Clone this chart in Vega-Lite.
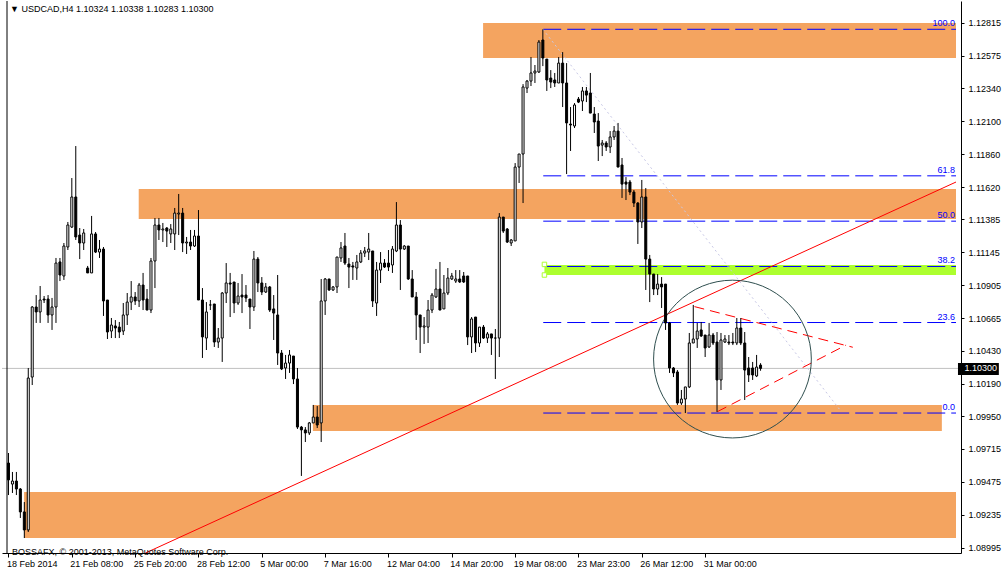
{
"$schema": "https://vega.github.io/schema/vega-lite/v6.json",
"width": 959, "height": 552,
"autosize": {"type": "none"},
"padding": {"left": 2, "top": 1, "right": 43, "bottom": 18},
"background": "white",
"config": {"view": {"stroke": null}, "font": "Liberation Sans", "axis": {"labelOverlap": false, "labelBound": false}},
"datasets": {
"candles": [
{"i":0,"o":1.09611,"h":1.09684,"l":1.09378,"c":1.09488},
{"i":1,"o":1.09458,"h":1.09546,"l":1.09393,"c":1.09480},
{"i":2,"o":1.09480,"h":1.09546,"l":1.09378,"c":1.09422},
{"i":3,"o":1.09422,"h":1.09429,"l":1.09211,"c":1.09255},
{"i":4,"o":1.09255,"h":1.09327,"l":1.09065,"c":1.09124},
{"i":5,"o":1.09124,"h":1.10303,"l":1.09109,"c":1.10230},
{"i":6,"o":1.10237,"h":1.10754,"l":1.10179,"c":1.10747},
{"i":7,"o":1.10747,"h":1.10834,"l":1.10631,"c":1.10711},
{"i":8,"o":1.10711,"h":1.10900,"l":1.10631,"c":1.10798},
{"i":9,"o":1.10805,"h":1.10827,"l":1.10776,"c":1.10798},
{"i":10,"o":1.10805,"h":1.10834,"l":1.10631,"c":1.10689},
{"i":11,"o":1.10689,"h":1.10813,"l":1.10580,"c":1.10747},
{"i":12,"o":1.10747,"h":1.11104,"l":1.10631,"c":1.11067},
{"i":13,"o":1.11075,"h":1.11104,"l":1.10936,"c":1.10980},
{"i":14,"o":1.10973,"h":1.11213,"l":1.10944,"c":1.11191},
{"i":15,"o":1.11184,"h":1.11366,"l":1.11162,"c":1.11344},
{"i":16,"o":1.11329,"h":1.11686,"l":1.11322,"c":1.11548},
{"i":17,"o":1.11548,"h":1.11919,"l":1.11235,"c":1.11257},
{"i":18,"o":1.11271,"h":1.11322,"l":1.11096,"c":1.11213},
{"i":19,"o":1.11213,"h":1.11315,"l":1.11162,"c":1.11286},
{"i":20,"o":1.11031,"h":1.11046,"l":1.10995,"c":1.10995},
{"i":21,"o":1.10995,"h":1.11410,"l":1.10995,"c":1.11279},
{"i":22,"o":1.11279,"h":1.11293,"l":1.11140,"c":1.11147},
{"i":23,"o":1.11147,"h":1.11235,"l":1.11104,"c":1.11169},
{"i":24,"o":1.11169,"h":1.11184,"l":1.10682,"c":1.10791},
{"i":25,"o":1.10798,"h":1.10798,"l":1.10514,"c":1.10565},
{"i":26,"o":1.10572,"h":1.10667,"l":1.10521,"c":1.10616},
{"i":27,"o":1.10609,"h":1.10652,"l":1.10521,"c":1.10594},
{"i":28,"o":1.10601,"h":1.10638,"l":1.10521,"c":1.10565},
{"i":29,"o":1.10572,"h":1.10776,"l":1.10543,"c":1.10689},
{"i":30,"o":1.10689,"h":1.10849,"l":1.10616,"c":1.10783},
{"i":31,"o":1.10783,"h":1.10936,"l":1.10725,"c":1.10820},
{"i":32,"o":1.10820,"h":1.10856,"l":1.10762,"c":1.10791},
{"i":33,"o":1.10791,"h":1.10922,"l":1.10747,"c":1.10907},
{"i":34,"o":1.10907,"h":1.10995,"l":1.10725,"c":1.10798},
{"i":35,"o":1.10805,"h":1.10878,"l":1.10725,"c":1.10725},
{"i":36,"o":1.10725,"h":1.11104,"l":1.10703,"c":1.11082},
{"i":37,"o":1.11082,"h":1.11395,"l":1.10885,"c":1.11344},
{"i":38,"o":1.11344,"h":1.11395,"l":1.11235,"c":1.11308},
{"i":39,"o":1.11308,"h":1.11359,"l":1.11220,"c":1.11315},
{"i":40,"o":1.11322,"h":1.11329,"l":1.11184,"c":1.11300},
{"i":41,"o":1.11279,"h":1.11351,"l":1.11213,"c":1.11315},
{"i":42,"o":1.11279,"h":1.11468,"l":1.11162,"c":1.11431},
{"i":43,"o":1.11424,"h":1.11570,"l":1.11271,"c":1.11431},
{"i":44,"o":1.11431,"h":1.11468,"l":1.11147,"c":1.11213},
{"i":45,"o":1.11213,"h":1.11257,"l":1.11133,"c":1.11220},
{"i":46,"o":1.11220,"h":1.11308,"l":1.11162,"c":1.11191},
{"i":47,"o":1.11191,"h":1.11308,"l":1.11184,"c":1.11264},
{"i":48,"o":1.11264,"h":1.11453,"l":1.10798,"c":1.10798},
{"i":49,"o":1.10798,"h":1.10885,"l":1.10376,"c":1.10529},
{"i":50,"o":1.10521,"h":1.10783,"l":1.10434,"c":1.10711},
{"i":51,"o":1.10762,"h":1.10798,"l":1.10725,"c":1.10762},
{"i":52,"o":1.10769,"h":1.10769,"l":1.10456,"c":1.10492},
{"i":53,"o":1.10492,"h":1.10594,"l":1.10449,"c":1.10521},
{"i":54,"o":1.10521,"h":1.10856,"l":1.10347,"c":1.10849},
{"i":55,"o":1.10849,"h":1.11067,"l":1.10776,"c":1.10922},
{"i":56,"o":1.10922,"h":1.10995,"l":1.10674,"c":1.10914},
{"i":57,"o":1.10929,"h":1.10929,"l":1.10703,"c":1.10776},
{"i":58,"o":1.10776,"h":1.10922,"l":1.10762,"c":1.10827},
{"i":59,"o":1.10834,"h":1.10987,"l":1.10703,"c":1.10820},
{"i":60,"o":1.10834,"h":1.10907,"l":1.10783,"c":1.10813},
{"i":61,"o":1.10805,"h":1.10805,"l":1.10587,"c":1.10747},
{"i":62,"o":1.10747,"h":1.11155,"l":1.10718,"c":1.11096},
{"i":63,"o":1.11096,"h":1.11111,"l":1.10856,"c":1.10922},
{"i":64,"o":1.10922,"h":1.10965,"l":1.10834,"c":1.10856},
{"i":65,"o":1.10856,"h":1.10922,"l":1.10849,"c":1.10893},
{"i":66,"o":1.10893,"h":1.10900,"l":1.10711,"c":1.10725},
{"i":67,"o":1.10733,"h":1.10834,"l":1.10507,"c":1.10703},
{"i":68,"o":1.10689,"h":1.10980,"l":1.10325,"c":1.10412},
{"i":69,"o":1.10412,"h":1.10434,"l":1.10288,"c":1.10296},
{"i":70,"o":1.10303,"h":1.10398,"l":1.10223,"c":1.10339},
{"i":71,"o":1.10339,"h":1.10434,"l":1.10267,"c":1.10398},
{"i":72,"o":1.10390,"h":1.10390,"l":1.10186,"c":1.10223},
{"i":73,"o":1.10223,"h":1.10303,"l":1.09859,"c":1.09873},
{"i":74,"o":1.09873,"h":1.09881,"l":1.09517,"c":1.09852},
{"i":75,"o":1.09852,"h":1.09873,"l":1.09764,"c":1.09830},
{"i":76,"o":1.09830,"h":1.09910,"l":1.09815,"c":1.09903},
{"i":77,"o":1.09903,"h":1.10034,"l":1.09903,"c":1.09946},
{"i":78,"o":1.09946,"h":1.10026,"l":1.09866,"c":1.09888},
{"i":79,"o":1.09903,"h":1.10951,"l":1.09764,"c":1.10791},
{"i":80,"o":1.10791,"h":1.10958,"l":1.10689,"c":1.10951},
{"i":81,"o":1.10951,"h":1.10951,"l":1.10864,"c":1.10871},
{"i":82,"o":1.10871,"h":1.10900,"l":1.10864,"c":1.10893},
{"i":83,"o":1.10893,"h":1.11111,"l":1.10849,"c":1.11111},
{"i":84,"o":1.11104,"h":1.11220,"l":1.11075,"c":1.11177},
{"i":85,"o":1.11191,"h":1.11286,"l":1.11053,"c":1.11067},
{"i":86,"o":1.11060,"h":1.11104,"l":1.10885,"c":1.11038},
{"i":87,"o":1.11046,"h":1.11075,"l":1.10944,"c":1.11038},
{"i":88,"o":1.11031,"h":1.11126,"l":1.10944,"c":1.11075},
{"i":89,"o":1.11075,"h":1.11162,"l":1.11067,"c":1.11140},
{"i":90,"o":1.11140,"h":1.11184,"l":1.11111,"c":1.11155},
{"i":91,"o":1.11147,"h":1.11286,"l":1.11089,"c":1.11169},
{"i":92,"o":1.11155,"h":1.11155,"l":1.10747,"c":1.10791},
{"i":93,"o":1.10776,"h":1.11075,"l":1.10682,"c":1.11016},
{"i":94,"o":1.11016,"h":1.11147,"l":1.10922,"c":1.11067},
{"i":95,"o":1.11067,"h":1.11096,"l":1.11031,"c":1.11038},
{"i":96,"o":1.11067,"h":1.11162,"l":1.11009,"c":1.11038},
{"i":97,"o":1.11053,"h":1.11191,"l":1.10995,"c":1.11169},
{"i":98,"o":1.11155,"h":1.11511,"l":1.11147,"c":1.11344},
{"i":99,"o":1.11344,"h":1.11380,"l":1.10871,"c":1.11169},
{"i":100,"o":1.11169,"h":1.11198,"l":1.11162,"c":1.11191},
{"i":101,"o":1.11191,"h":1.11191,"l":1.10944,"c":1.10951},
{"i":102,"o":1.10951,"h":1.11016,"l":1.10820,"c":1.10820},
{"i":103,"o":1.10820,"h":1.10856,"l":1.10507,"c":1.10689},
{"i":104,"o":1.10689,"h":1.10689,"l":1.10412,"c":1.10601},
{"i":105,"o":1.10601,"h":1.10674,"l":1.10478,"c":1.10609},
{"i":106,"o":1.10601,"h":1.10798,"l":1.10485,"c":1.10725},
{"i":107,"o":1.10725,"h":1.10849,"l":1.10703,"c":1.10834},
{"i":108,"o":1.10820,"h":1.11024,"l":1.10813,"c":1.10878},
{"i":109,"o":1.10878,"h":1.11075,"l":1.10725,"c":1.10725},
{"i":110,"o":1.10733,"h":1.10980,"l":1.10733,"c":1.10849},
{"i":111,"o":1.10849,"h":1.11031,"l":1.10834,"c":1.10958},
{"i":112,"o":1.10951,"h":1.10995,"l":1.10944,"c":1.10973},
{"i":113,"o":1.10936,"h":1.11016,"l":1.10922,"c":1.10951},
{"i":114,"o":1.10951,"h":1.11016,"l":1.10922,"c":1.10929},
{"i":115,"o":1.10973,"h":1.11002,"l":1.10922,"c":1.10929},
{"i":116,"o":1.10973,"h":1.10973,"l":1.10470,"c":1.10529},
{"i":117,"o":1.10529,"h":1.10674,"l":1.10412,"c":1.10660},
{"i":118,"o":1.10674,"h":1.10674,"l":1.10419,"c":1.10485},
{"i":119,"o":1.10485,"h":1.10601,"l":1.10456,"c":1.10601},
{"i":120,"o":1.10601,"h":1.10616,"l":1.10514,"c":1.10521},
{"i":121,"o":1.10521,"h":1.10565,"l":1.10485,"c":1.10551},
{"i":122,"o":1.10551,"h":1.10551,"l":1.10398,"c":1.10521},
{"i":123,"o":1.10521,"h":1.10587,"l":1.10223,"c":1.10521},
{"i":124,"o":1.10521,"h":1.11431,"l":1.10383,"c":1.11402},
{"i":125,"o":1.11402,"h":1.11402,"l":1.11286,"c":1.11300},
{"i":126,"o":1.11315,"h":1.11322,"l":1.11213,"c":1.11220},
{"i":127,"o":1.11213,"h":1.11242,"l":1.11191,"c":1.11235},
{"i":128,"o":1.11228,"h":1.11795,"l":1.11228,"c":1.11766},
{"i":129,"o":1.11766,"h":1.11861,"l":1.11650,"c":1.11861},
{"i":130,"o":1.11861,"h":1.12370,"l":1.11504,"c":1.12349},
{"i":131,"o":1.12341,"h":1.12400,"l":1.12305,"c":1.12392},
{"i":132,"o":1.12392,"h":1.12567,"l":1.12356,"c":1.12451},
{"i":133,"o":1.12451,"h":1.12509,"l":1.12378,"c":1.12465},
{"i":134,"o":1.12458,"h":1.12691,"l":1.12451,"c":1.12676},
{"i":135,"o":1.12691,"h":1.12769,"l":1.12501,"c":1.12560},
{"i":136,"o":1.12552,"h":1.12552,"l":1.12320,"c":1.12400},
{"i":137,"o":1.12414,"h":1.12472,"l":1.12341,"c":1.12385},
{"i":138,"o":1.12400,"h":1.12451,"l":1.12349,"c":1.12378},
{"i":139,"o":1.12378,"h":1.12567,"l":1.12378,"c":1.12523},
{"i":140,"o":1.12523,"h":1.12603,"l":1.12203,"c":1.12378},
{"i":141,"o":1.12378,"h":1.12523,"l":1.11715,"c":1.12087},
{"i":142,"o":1.12079,"h":1.12203,"l":1.11883,"c":1.12072},
{"i":143,"o":1.12065,"h":1.12232,"l":1.12050,"c":1.12218},
{"i":144,"o":1.12261,"h":1.12276,"l":1.12232,"c":1.12239},
{"i":145,"o":1.12247,"h":1.12349,"l":1.12174,"c":1.12320},
{"i":146,"o":1.12320,"h":1.12349,"l":1.12239,"c":1.12290},
{"i":147,"o":1.12305,"h":1.12451,"l":1.12159,"c":1.12159},
{"i":148,"o":1.12152,"h":1.12203,"l":1.12014,"c":1.12094},
{"i":149,"o":1.12101,"h":1.12159,"l":1.11810,"c":1.11919},
{"i":150,"o":1.11926,"h":1.11963,"l":1.11846,"c":1.11941},
{"i":151,"o":1.11941,"h":1.11955,"l":1.11883,"c":1.11912},
{"i":152,"o":1.11912,"h":1.12028,"l":1.11868,"c":1.11985},
{"i":153,"o":1.11985,"h":1.12065,"l":1.11963,"c":1.12028},
{"i":154,"o":1.12028,"h":1.12087,"l":1.11766,"c":1.11766},
{"i":155,"o":1.11781,"h":1.11832,"l":1.11541,"c":1.11642},
{"i":156,"o":1.11657,"h":1.11693,"l":1.11526,"c":1.11642},
{"i":157,"o":1.11657,"h":1.11672,"l":1.11562,"c":1.11584},
{"i":158,"o":1.11584,"h":1.11599,"l":1.11475,"c":1.11504},
{"i":159,"o":1.11504,"h":1.11511,"l":1.11206,"c":1.11366},
{"i":160,"o":1.11366,"h":1.11672,"l":1.11322,"c":1.11548},
{"i":161,"o":1.11548,"h":1.11613,"l":1.10871,"c":1.11096},
{"i":162,"o":1.11096,"h":1.11126,"l":1.10783,"c":1.10987},
{"i":163,"o":1.10987,"h":1.10987,"l":1.10834,"c":1.10878},
{"i":164,"o":1.10878,"h":1.10987,"l":1.10834,"c":1.10914},
{"i":165,"o":1.10914,"h":1.10965,"l":1.10740,"c":1.10893},
{"i":166,"o":1.10914,"h":1.10914,"l":1.10580,"c":1.10631},
{"i":167,"o":1.10631,"h":1.10638,"l":1.10267,"c":1.10303},
{"i":168,"o":1.10303,"h":1.10310,"l":1.10237,"c":1.10267},
{"i":169,"o":1.10274,"h":1.10288,"l":1.10034,"c":1.10048},
{"i":170,"o":1.10048,"h":1.10143,"l":1.10034,"c":1.10077},
{"i":171,"o":1.10077,"h":1.10165,"l":1.09975,"c":1.10165},
{"i":172,"o":1.10165,"h":1.10558,"l":1.10157,"c":1.10485},
{"i":173,"o":1.10485,"h":1.10762,"l":1.10485,"c":1.10514},
{"i":174,"o":1.10514,"h":1.10631,"l":1.10449,"c":1.10572},
{"i":175,"o":1.10580,"h":1.10638,"l":1.10529,"c":1.10536},
{"i":176,"o":1.10543,"h":1.10543,"l":1.10383,"c":1.10449},
{"i":177,"o":1.10456,"h":1.10631,"l":1.10449,"c":1.10543},
{"i":178,"o":1.10543,"h":1.10558,"l":1.10470,"c":1.10485},
{"i":179,"o":1.10492,"h":1.10565,"l":1.09983,"c":1.10216},
{"i":180,"o":1.10216,"h":1.10558,"l":1.10143,"c":1.10507},
{"i":181,"o":1.10492,"h":1.10543,"l":1.10485,"c":1.10514},
{"i":182,"o":1.10492,"h":1.10543,"l":1.10470,"c":1.10485},
{"i":183,"o":1.10492,"h":1.10558,"l":1.10470,"c":1.10485},
{"i":184,"o":1.10485,"h":1.10667,"l":1.10470,"c":1.10594},
{"i":185,"o":1.10594,"h":1.10667,"l":1.10470,"c":1.10485},
{"i":186,"o":1.10485,"h":1.10565,"l":1.10070,"c":1.10288},
{"i":187,"o":1.10303,"h":1.10383,"l":1.10201,"c":1.10252},
{"i":188,"o":1.10303,"h":1.10347,"l":1.10216,"c":1.10252},
{"i":189,"o":1.10245,"h":1.10398,"l":1.10237,"c":1.10310},
{"i":190,"o":1.10324,"h":1.10338,"l":1.10283,"c":1.10300}
],
"zones": [
{"kind":"sr","i1":119.9,"i2":239.375,"top":1.12815,"bot":1.12560},
{"kind":"sr","i1":32.9,"i2":239.375,"top":1.11606,"bot":1.11388},
{"kind":"fib","i1":135.4,"i2":239.375,"top":1.11053,"bot":1.10980},
{"kind":"sr","i1":76.9,"i2":235.8,"top":1.10034,"bot":1.09844},
{"kind":"sr","i1":3.95,"i2":239.375,"top":1.09400,"bot":1.09065}
],
"fib": [
{"lvl":"100.0","p":1.12769},
{"lvl":"61.8","p":1.11702},
{"lvl":"50.0","p":1.11372},
{"lvl":"38.2","p":1.11042},
{"lvl":"23.6","p":1.10634},
{"lvl":"0.0","p":1.09975}
],
"trend": [{"i":34.6,"p":1.08956},{"i":239.375,"p":1.11657}],
"diag": [{"i":135,"p":1.12769},{"i":209.9,"p":1.10004}],
"tri": [
{"side":"upper","i":173.3,"p":1.10750},{"side":"upper","i":213.3,"p":1.10454},
{"side":"lower","i":179.1,"p":1.09985},{"side":"lower","i":211.6,"p":1.10470}
],
"handles": [{"i":135.4,"p":1.11057},{"i":135.4,"p":1.10980}],
"circle": [{"i":182.9,"p":1.10368}],
"last": [{"p":1.10300,"hi":1.10339,"lo":1.10252,"txt":"1.10300"}],
"notes": [{"txt":"▼  USDCAD,H4  1.10324 1.10338 1.10283 1.10300"}],
"copy": [{"txt":"BOSSAFX, © 2001-2013, MetaQuotes Software Corp."}]
},
"layer": [
{"data":{"name":"zones"},
 "mark":{"type":"rect"},
 "encoding":{
  "x":{"field":"i1","type":"quantitative","scale":{"domain":[-0.375,239.375],"nice":false,"zero":false},
   "axis":{"title":null,"grid":false,"values":[0,16,32,48,64,80,96,112,128,144,160,176],"tickCount":40,
    "labelExpr":"['18 Feb 2014','21 Feb 08:00','25 Feb 20:00','28 Feb 12:00','5 Mar 00:00','7 Mar 16:00','12 Mar 04:00','14 Mar 20:00','19 Mar 08:00','23 Mar 23:00','26 Mar 12:00','31 Mar 00:00'][round(datum.value/16)]",
    "labelAlign":"left","labelBaseline":"top","labelPadding":2,"labelOffset":-2,"tickSize":4,"tickColor":"black","domainColor":"black",
    "labelFont":"Liberation Sans","labelFontSize":9,"labelColor":"black","labelFlush":false,"labelOverlap":false,"labelBound":false}},
  "x2":{"field":"i2"},
  "y":{"field":"top","type":"quantitative","scale":{"domain":[1.08956,1.12975],"nice":false,"zero":false},
   "axis":{"title":null,"orient":"right","grid":false,"tickCount":40,
    "values":[1.08995,1.09235,1.09475,1.09715,1.0995,1.1019,1.1043,1.10665,1.10905,1.11145,1.11385,1.1162,1.1186,1.121,1.1234,1.12575,1.12815],
    "format":".5f","tickSize":3,"labelPadding":4,"tickColor":"black","domainColor":"black","labelAlign":"left","labelBaseline":"middle",
    "labelFont":"Liberation Sans","labelFontSize":9,"labelColor":"black","labelOverlap":false,"labelBound":false,"labelFlush":false}},
  "y2":{"field":"bot"},
  "color":{"field":"kind","type":"nominal","scale":{"domain":["sr","fib"],"range":["#F4A460","#ADFF2F"]},"legend":null}
 }},
{"data":{"name":"last"},
 "mark":{"type":"rule","color":"#C0C0C0","strokeWidth":1},
 "encoding":{"y":{"field":"p","type":"quantitative","scale":{"domain":[1.08956,1.12975],"nice":false,"zero":false}}}},
{"data":{"name":"fib"},
 "mark":{"type":"rule","color":"#0000FF","strokeWidth":1,"strokeDash":[18,6]},
 "encoding":{
  "x":{"datum":135.1,"type":"quantitative","scale":{"domain":[-0.375,239.375],"nice":false,"zero":false}},
  "x2":{"datum":239.375},
  "y":{"field":"p","type":"quantitative","scale":{"domain":[1.08956,1.12975],"nice":false,"zero":false}}}},
{"data":{"name":"diag"},
 "mark":{"type":"line","color":"#C8C8E6","strokeWidth":1,"strokeDash":[2,3]},
 "encoding":{
  "x":{"field":"i","type":"quantitative","scale":{"domain":[-0.375,239.375],"nice":false,"zero":false}},
  "y":{"field":"p","type":"quantitative","scale":{"domain":[1.08956,1.12975],"nice":false,"zero":false}}}},
{"data":{"name":"handles"},
 "mark":{"type":"point","shape":"square","size":20,"filled":true,"fill":"white","stroke":"#ADFF2F","strokeWidth":1,"opacity":1},
 "encoding":{
  "x":{"field":"i","type":"quantitative","scale":{"domain":[-0.375,239.375],"nice":false,"zero":false}},
  "y":{"field":"p","type":"quantitative","scale":{"domain":[1.08956,1.12975],"nice":false,"zero":false}}}},
{"data":{"name":"trend"},
 "mark":{"type":"line","color":"#FF0000","strokeWidth":1,"clip":true},
 "encoding":{
  "x":{"field":"i","type":"quantitative","scale":{"domain":[-0.375,239.375],"nice":false,"zero":false}},
  "y":{"field":"p","type":"quantitative","scale":{"domain":[1.08956,1.12975],"nice":false,"zero":false}}}},
{"data":{"name":"tri"},
 "mark":{"type":"line","color":"#FF0000","strokeWidth":1,"strokeDash":[10,6]},
 "encoding":{
  "x":{"field":"i","type":"quantitative","scale":{"domain":[-0.375,239.375],"nice":false,"zero":false}},
  "y":{"field":"p","type":"quantitative","scale":{"domain":[1.08956,1.12975],"nice":false,"zero":false}},
  "detail":{"field":"side","type":"nominal"}}},
{"data":{"name":"circle"},
 "mark":{"type":"point","shape":"circle","size":24885,"filled":false,"stroke":"#2F4F4F","strokeWidth":1,"opacity":1},
 "encoding":{
  "x":{"field":"i","type":"quantitative","scale":{"domain":[-0.375,239.375],"nice":false,"zero":false}},
  "y":{"field":"p","type":"quantitative","scale":{"domain":[1.08956,1.12975],"nice":false,"zero":false}}}},
{"data":{"name":"candles"},
 "mark":{"type":"rule","color":"black","strokeWidth":1},
 "encoding":{
  "x":{"field":"i","type":"quantitative","scale":{"domain":[-0.375,239.375],"nice":false,"zero":false}},
  "y":{"field":"l","type":"quantitative","scale":{"domain":[1.08956,1.12975],"nice":false,"zero":false}},
  "y2":{"field":"h"}}},
{"data":{"name":"candles"},
 "mark":{"type":"bar","width":2,"stroke":"black","strokeWidth":1},
 "encoding":{
  "x":{"field":"i","type":"quantitative","scale":{"domain":[-0.375,239.375],"nice":false,"zero":false}},
  "y":{"field":"o","type":"quantitative","scale":{"domain":[1.08956,1.12975],"nice":false,"zero":false}},
  "y2":{"field":"c"},
  "fill":{"condition":{"test":"datum.c > datum.o","value":"white"},"value":"black"}}},
{"data":{"name":"fib"},
 "mark":{"type":"text","align":"right","baseline":"alphabetic","dy":-3,"color":"#0000FF","font":"Liberation Sans","fontSize":9},
 "encoding":{
  "x":{"datum":239.1,"type":"quantitative","scale":{"domain":[-0.375,239.375],"nice":false,"zero":false}},
  "y":{"field":"p","type":"quantitative","scale":{"domain":[1.08956,1.12975],"nice":false,"zero":false}},
  "text":{"field":"lvl"}}},
{"data":{"name":"last"},
 "mark":{"type":"rect","color":"black"},
 "encoding":{
  "x":{"datum":239.875,"type":"quantitative","scale":{"domain":[-0.375,239.375],"nice":false,"zero":false}},
  "x2":{"datum":250.2},
  "y":{"field":"hi","type":"quantitative","scale":{"domain":[1.08956,1.12975],"nice":false,"zero":false}},
  "y2":{"field":"lo"}}},
{"data":{"name":"last"},
 "mark":{"type":"text","align":"left","baseline":"middle","color":"white","font":"Liberation Sans","fontSize":9},
 "encoding":{
  "x":{"datum":241.5,"type":"quantitative","scale":{"domain":[-0.375,239.375],"nice":false,"zero":false}},
  "y":{"field":"p","type":"quantitative","scale":{"domain":[1.08956,1.12975],"nice":false,"zero":false}},
  "text":{"field":"txt"}}},
{"data":{"name":"notes"},
 "mark":{"type":"text","align":"left","baseline":"middle","color":"black","font":"Liberation Sans","fontSize":9},
 "encoding":{
  "x":{"datum":0.4,"type":"quantitative","scale":{"domain":[-0.375,239.375],"nice":false,"zero":false}},
  "y":{"datum":1.12916,"type":"quantitative","scale":{"domain":[1.08956,1.12975],"nice":false,"zero":false}},
  "text":{"field":"txt"}}},
{"data":{"name":"copy"},
 "mark":{"type":"text","align":"left","baseline":"middle","color":"black","font":"Liberation Sans","fontSize":9},
 "encoding":{
  "x":{"datum":0.9,"type":"quantitative","scale":{"domain":[-0.375,239.375],"nice":false,"zero":false}},
  "y":{"datum":1.08963,"type":"quantitative","scale":{"domain":[1.08956,1.12975],"nice":false,"zero":false}},
  "text":{"field":"txt"}}},
{"data":{"name":"circle"},
 "mark":{"type":"rule","color":"black","strokeWidth":1},
 "encoding":{
  "x":{"datum":-0.375,"type":"quantitative","scale":{"domain":[-0.375,239.375],"nice":false,"zero":false}}}}
]
}
